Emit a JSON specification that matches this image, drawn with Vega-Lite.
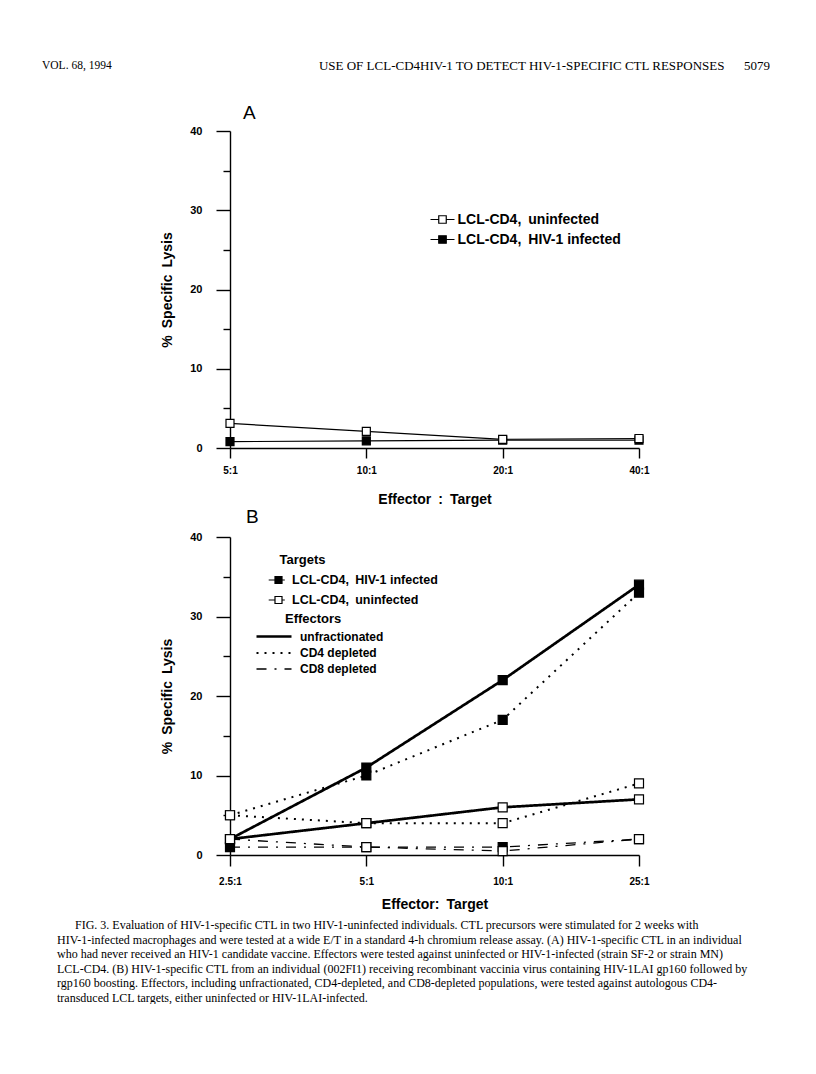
{
  "$schema": "https://vega.github.io/schema/vega-lite/v6.json",
  "background": "white",
  "padding": {"left": 42, "top": 36, "right": 0, "bottom": 0},
  "config": {
    "font": "Liberation Sans",
    "view": {"stroke": null},
    "axis": {"grid": false, "domainColor": "black", "domainWidth": 1.4, "tickColor": "black", "tickWidth": 1.4, "labelColor": "black", "labelFont": "Liberation Sans", "labelFontWeight": "bold", "titleColor": "black", "titleFont": "Liberation Sans", "titleFontWeight": "bold"},
    "legend": {"labelColor": "black", "labelFont": "Liberation Sans", "labelFontWeight": "bold", "titleColor": "black", "titleFont": "Liberation Sans", "titleFontWeight": "bold", "padding": 0, "labelLimit": 400},
    "title": {"color": "black", "font": "Liberation Sans", "fontWeight": "normal"}
  },
  "datasets": {
    "lysis": [
      {"panel": "A", "ratio": "5:1", "target": "LCL-CD4, HIV-1 infected", "effector": "unfractionated", "lysis": 0.8},
      {"panel": "A", "ratio": "10:1", "target": "LCL-CD4, HIV-1 infected", "effector": "unfractionated", "lysis": 0.9},
      {"panel": "A", "ratio": "20:1", "target": "LCL-CD4, HIV-1 infected", "effector": "unfractionated", "lysis": 1.0},
      {"panel": "A", "ratio": "40:1", "target": "LCL-CD4, HIV-1 infected", "effector": "unfractionated", "lysis": 1.0},
      {"panel": "A", "ratio": "5:1", "target": "LCL-CD4, uninfected", "effector": "unfractionated", "lysis": 3.1},
      {"panel": "A", "ratio": "10:1", "target": "LCL-CD4, uninfected", "effector": "unfractionated", "lysis": 2.1},
      {"panel": "A", "ratio": "20:1", "target": "LCL-CD4, uninfected", "effector": "unfractionated", "lysis": 1.1},
      {"panel": "A", "ratio": "40:1", "target": "LCL-CD4, uninfected", "effector": "unfractionated", "lysis": 1.2},
      {"panel": "B", "ratio": "2.5:1", "target": "LCL-CD4, HIV-1 infected", "effector": "unfractionated", "lysis": 2},
      {"panel": "B", "ratio": "5:1", "target": "LCL-CD4, HIV-1 infected", "effector": "unfractionated", "lysis": 11},
      {"panel": "B", "ratio": "10:1", "target": "LCL-CD4, HIV-1 infected", "effector": "unfractionated", "lysis": 22},
      {"panel": "B", "ratio": "25:1", "target": "LCL-CD4, HIV-1 infected", "effector": "unfractionated", "lysis": 34},
      {"panel": "B", "ratio": "2.5:1", "target": "LCL-CD4, HIV-1 infected", "effector": "CD4 depleted", "lysis": 5},
      {"panel": "B", "ratio": "5:1", "target": "LCL-CD4, HIV-1 infected", "effector": "CD4 depleted", "lysis": 10},
      {"panel": "B", "ratio": "10:1", "target": "LCL-CD4, HIV-1 infected", "effector": "CD4 depleted", "lysis": 17},
      {"panel": "B", "ratio": "25:1", "target": "LCL-CD4, HIV-1 infected", "effector": "CD4 depleted", "lysis": 33},
      {"panel": "B", "ratio": "2.5:1", "target": "LCL-CD4, HIV-1 infected", "effector": "CD8 depleted", "lysis": 1},
      {"panel": "B", "ratio": "5:1", "target": "LCL-CD4, HIV-1 infected", "effector": "CD8 depleted", "lysis": 1},
      {"panel": "B", "ratio": "10:1", "target": "LCL-CD4, HIV-1 infected", "effector": "CD8 depleted", "lysis": 1},
      {"panel": "B", "ratio": "25:1", "target": "LCL-CD4, HIV-1 infected", "effector": "CD8 depleted", "lysis": 2},
      {"panel": "B", "ratio": "2.5:1", "target": "LCL-CD4, uninfected", "effector": "unfractionated", "lysis": 2},
      {"panel": "B", "ratio": "5:1", "target": "LCL-CD4, uninfected", "effector": "unfractionated", "lysis": 4},
      {"panel": "B", "ratio": "10:1", "target": "LCL-CD4, uninfected", "effector": "unfractionated", "lysis": 6},
      {"panel": "B", "ratio": "25:1", "target": "LCL-CD4, uninfected", "effector": "unfractionated", "lysis": 7},
      {"panel": "B", "ratio": "2.5:1", "target": "LCL-CD4, uninfected", "effector": "CD4 depleted", "lysis": 5},
      {"panel": "B", "ratio": "5:1", "target": "LCL-CD4, uninfected", "effector": "CD4 depleted", "lysis": 4},
      {"panel": "B", "ratio": "10:1", "target": "LCL-CD4, uninfected", "effector": "CD4 depleted", "lysis": 4},
      {"panel": "B", "ratio": "25:1", "target": "LCL-CD4, uninfected", "effector": "CD4 depleted", "lysis": 9},
      {"panel": "B", "ratio": "2.5:1", "target": "LCL-CD4, uninfected", "effector": "CD8 depleted", "lysis": 2},
      {"panel": "B", "ratio": "5:1", "target": "LCL-CD4, uninfected", "effector": "CD8 depleted", "lysis": 1},
      {"panel": "B", "ratio": "10:1", "target": "LCL-CD4, uninfected", "effector": "CD8 depleted", "lysis": 0.5},
      {"panel": "B", "ratio": "25:1", "target": "LCL-CD4, uninfected", "effector": "CD8 depleted", "lysis": 2}
    ]
  },
  "spacing": 8,
  "resolve": {
    "scale": {"x": "independent", "y": "independent", "fill": "independent", "strokeDash": "independent", "strokeWidth": "independent"},
    "legend": {"fill": "independent", "strokeDash": "independent", "strokeWidth": "independent"}
  },
  "vconcat": [
    {
      "width": 728,
      "height": 60,
      "data": {"values": [
        {"kind": "volume", "text": "VOL. 68, 1994"},
        {"kind": "running head", "text": "USE OF LCL-CD4HIV-1 TO DETECT HIV-1-SPECIFIC CTL RESPONSES\u2003\u20025079"}
      ]},
      "encoding": {
        "x": {"field": "kind", "type": "nominal", "scale": {"type": "point", "padding": 0, "domain": ["volume", "running head"]}, "axis": null},
        "text": {"field": "text", "type": "nominal"}
      },
      "layer": [
        {"transform": [{"filter": "datum.kind === 'volume'"}], "mark": {"type": "text", "align": "left", "baseline": "middle", "font": "Liberation Serif", "fontSize": 11.5, "color": "black"}},
        {"transform": [{"filter": "datum.kind === 'running head'"}], "mark": {"type": "text", "align": "right", "baseline": "middle", "font": "Liberation Serif", "fontSize": 13, "color": "black"}}
      ]
    },
    {
      "spacing": 0,
      "resolve": {
        "scale": {"x": "independent", "y": "independent", "fill": "independent", "strokeDash": "independent", "strokeWidth": "independent"},
        "legend": {"fill": "independent", "strokeDash": "independent", "strokeWidth": "independent"}
      },
      "hconcat": [
        {"width": 118, "height": 1, "data": {"values": []}, "mark": "point"},
        {
          "spacing": 2,
          "resolve": {
            "scale": {"x": "independent", "y": "independent", "fill": "independent", "strokeDash": "independent", "strokeWidth": "independent"},
            "legend": {"fill": "independent", "strokeDash": "independent", "strokeWidth": "independent"}
          },
          "vconcat": [
            {
              "width": 409,
              "height": 317,
              "title": {"text": "A", "anchor": "start", "frame": "group", "dx": 13, "offset": 2, "fontSize": 19},
              "data": {"name": "lysis"},
              "transform": [{"filter": "datum.panel === 'A'"}],
              "encoding": {
                "x": {"field": "ratio", "type": "ordinal", "sort": ["5:1", "10:1", "20:1", "40:1"], "scale": {"type": "point", "padding": 0},
                  "axis": {"title": "Effector\u2002:\u2002Target", "labelAngle": 0, "tickSize": 10, "labelPadding": 7, "labelFontSize": 10, "titleFontSize": 14, "titlePadding": 17}},
                "y": {"field": "lysis", "type": "quantitative", "scale": {"domain": [0, 40], "nice": false},
                  "axis": {"values": [0, 5, 10, 15, 20, 25, 30, 35, 40], "labelExpr": "datum.value % 10 === 0 ? datum.label : ''", "tickSize": 14,
                    "tickDash": {"condition": {"test": "datum.value % 10 !== 0", "value": [7, 30]}, "value": [30, 0]},
                    "labelPadding": 14, "labelFontSize": 11, "title": "%\u2002Specific\u2002Lysis", "titleFontSize": 14, "titlePadding": 15}}
              },
              "layer": [
                {"mark": {"type": "line", "color": "black", "strokeWidth": 1.2}, "encoding": {"detail": {"field": "target", "type": "nominal"}, "order": {"value": null}}},
                {"mark": {"type": "point", "shape": "square", "filled": true, "stroke": "black", "strokeWidth": 1.2, "size": 64, "opacity": 1},
                  "encoding": {"fill": {"field": "target", "type": "nominal",
                    "scale": {"domain": ["LCL-CD4, uninfected", "LCL-CD4, HIV-1 infected"], "range": ["white", "black"]},
                    "legend": {"orient": "none", "legendX": 204, "legendY": 80, "title": null, "symbolType": "M-1.6,0H-0.5M0.5,0H1.6M-0.5,-0.5H0.5V0.5H-0.5Z", "symbolSize": 225, "symbolStrokeColor": "black", "symbolStrokeWidth": 1.2, "labelFontSize": 14, "labelOffset": 6.5, "rowPadding": 4, "labelExpr": "replace(datum.label, ', ', ',\u2002')"}}}}
              ]
            },
            {
              "width": 409,
              "height": 318,
              "title": {"text": "B", "anchor": "start", "frame": "group", "dx": 16, "offset": 4, "fontSize": 19},
              "data": {"name": "lysis"},
              "transform": [{"filter": "datum.panel === 'B'"}],
              "encoding": {
                "x": {"field": "ratio", "type": "ordinal", "sort": ["2.5:1", "5:1", "10:1", "25:1"], "scale": {"type": "point", "padding": 0},
                  "axis": {"title": "Effector:\u2002Target", "labelAngle": 0, "tickSize": 11, "labelPadding": 10, "labelFontSize": 10, "titleFontSize": 14, "titlePadding": 11}},
                "y": {"field": "lysis", "type": "quantitative", "scale": {"domain": [0, 40], "nice": false},
                  "axis": {"values": [0, 5, 10, 15, 20, 25, 30, 35, 40], "labelExpr": "datum.value % 10 === 0 ? datum.label : ''", "tickSize": 14,
                    "tickDash": {"condition": {"test": "datum.value % 10 !== 0", "value": [7, 30]}, "value": [30, 0]},
                    "labelPadding": 14, "labelFontSize": 11, "title": "%\u2002Specific\u2002Lysis", "titleFontSize": 14, "titlePadding": 15}}
              },
              "layer": [
                {"mark": {"type": "line", "color": "black"},
                  "encoding": {
                    "detail": {"field": "target", "type": "nominal"},
                    "order": {"value": null},
                    "strokeDash": {"field": "effector", "type": "nominal",
                      "scale": {"domain": ["unfractionated", "CD4 depleted", "CD8 depleted"], "range": [[1, 0], [2, 6], [10, 8, 2, 8]]},
                      "legend": {"orient": "none", "legendX": 35.5, "legendY": 76, "title": "\u200b\u2003\u2002Effectors", "titleFontSize": 13, "titlePadding": 2, "symbolType": "M-2.5,0H2.5", "symbolSize": 196, "symbolStrokeColor": "black", "labelFontSize": 12, "labelOffset": 17.5, "rowPadding": 2}},
                    "strokeWidth": {"field": "effector", "type": "nominal",
                      "scale": {"domain": ["unfractionated", "CD4 depleted", "CD8 depleted"], "range": [2.7, 1.3, 1.3]},
                      "legend": {"orient": "none", "legendX": 35.5, "legendY": 76, "title": "\u200b\u2003\u2002Effectors", "titleFontSize": 13, "titlePadding": 2, "symbolType": "M-2.5,0H2.5", "symbolSize": 196, "symbolStrokeColor": "black", "labelFontSize": 12, "labelOffset": 17.5, "rowPadding": 2}}
                  }},
                {"mark": {"type": "point", "shape": "square", "filled": true, "stroke": "black", "strokeWidth": 1.2, "size": 81, "opacity": 1},
                  "encoding": {"fill": {"field": "target", "type": "nominal",
                    "scale": {"domain": ["LCL-CD4, HIV-1 infected", "LCL-CD4, uninfected"], "range": ["black", "white"]},
                    "legend": {"orient": "none", "legendX": 40.5, "legendY": 17, "title": "\u200b\u2002\u2009Targets", "titleFontSize": 13, "titlePadding": 5, "symbolType": "M-1.4,0H-0.5M0.5,0H0.9M-0.5,-0.5H0.5V0.5H-0.5Z", "symbolSize": 196, "symbolStrokeColor": "black", "symbolStrokeWidth": 1.2, "labelFontSize": 12.5, "labelOffset": 5.5, "rowPadding": 5, "labelExpr": "replace(datum.label, ', ', ',\u2002')"}}}}
              ]
            }
          ]
        }
      ]
    },
    {
      "spacing": 0,
      "hconcat": [
        {"width": 15, "height": 1, "data": {"values": []}, "mark": "point"},
        {
          "width": 700,
          "height": 73,
          "data": {"values": [
            {"line": 1, "text": "\u200b\u2003\u2002FIG. 3. Evaluation of HIV-1-specific CTL in two HIV-1-uninfected individuals. CTL precursors were stimulated for 2 weeks with"},
            {"line": 2, "text": "HIV-1-infected macrophages and were tested at a wide E/T in a standard 4-h chromium release assay. (A) HIV-1-specific CTL in an individual"},
            {"line": 3, "text": "who had never received an HIV-1 candidate vaccine. Effectors were tested against uninfected or HIV-1-infected (strain SF-2 or strain MN)"},
            {"line": 4, "text": "LCL-CD4. (B) HIV-1-specific CTL from an individual (002FI1) receiving recombinant vaccinia virus containing HIV-1LAI gp160 followed by"},
            {"line": 5, "text": "rgp160 boosting. Effectors, including unfractionated, CD4-depleted, and CD8-depleted populations, were tested against autologous CD4-"},
            {"line": 6, "text": "transduced LCL targets, either uninfected or HIV-1LAI-infected."}
          ]},
          "mark": {"type": "text", "align": "left", "baseline": "middle", "font": "Liberation Serif", "fontSize": 12, "color": "black"},
          "encoding": {
            "y": {"field": "line", "type": "ordinal", "scale": {"type": "point", "padding": 0}, "axis": null},
            "x": {"datum": "caption", "type": "nominal", "scale": {"type": "point", "align": 0, "padding": 0}, "axis": null},
            "text": {"field": "text", "type": "nominal"}
          }
        }
      ]
    }
  ]
}
